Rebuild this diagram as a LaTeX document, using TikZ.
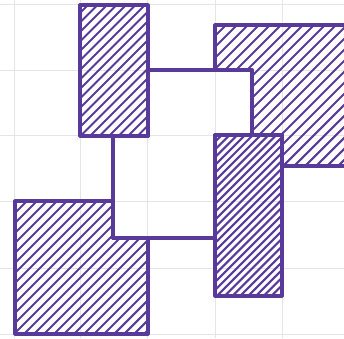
\documentclass[tikz,border=0pt]{standalone}
\usepackage{xcolor}
\usepackage{tikz}
\definecolor{ink}{RGB}{88,58,155}

% hatch a closed path with lines rising to the right, #1 = spacing
\newcommand{\hatchpiece}[2]{%
  \begin{scope}
    \clip #2;
    \foreach \i [evaluate=\i as \k using -340+\i*#1] in {0,...,100}
      \draw[hatchline] (\k,338) -- ++(338,-338);
  \end{scope}}

\begin{document}
\begin{tikzpicture}[x=1pt, y=-1pt,
    gridline/.style={gray!20, line width=0.6pt},
    outline/.style={draw=ink, line width=3.2pt, line join=round},
    hatchline/.style={ink, line width=2.1pt}]
  \useasboundingbox (0,0) rectangle (344,338);
  % ---------- GRID ----------
  \foreach \gx in {14,80,147,215,282} \draw[gridline] (\gx,0) -- (\gx,338);
  \foreach \gy in {4,70,135,201,268,334} \draw[gridline] (0,\gy) -- (344,\gy);
  % ---------- HATCHED PIECES ----------
  \hatchpiece{9.5}{(80,5) rectangle (148,136)}
  \hatchpiece{11}{(215,25) -- (348,25) -- (348,166) -- (282,166) -- (282,135)
    -- (252,135) -- (252,70) -- (215,70) -- cycle}
  \hatchpiece{7.8}{(215,135) rectangle (282,296)}
  \hatchpiece{10}{(15,201) -- (113,201) -- (113,238) -- (148,238) -- (148,334)
    -- (15,334) -- cycle}
  % ---------- OUTLINES ----------
  \draw[outline] (148,70) -- (252,70) -- (252,135) -- (215,135) -- (215,238)
    -- (113,238) -- (113,136) -- (148,136) -- cycle;
  \draw[outline] (80,5) rectangle (148,136);
  \draw[outline] (215,25) -- (348,25) -- (348,166) -- (282,166) -- (282,135)
    -- (252,135) -- (252,70) -- (215,70) -- cycle;
  \draw[outline] (215,135) rectangle (282,296);
  \draw[outline] (15,201) -- (113,201) -- (113,238) -- (148,238) -- (148,334)
    -- (15,334) -- cycle;
\end{tikzpicture}
\end{document}
